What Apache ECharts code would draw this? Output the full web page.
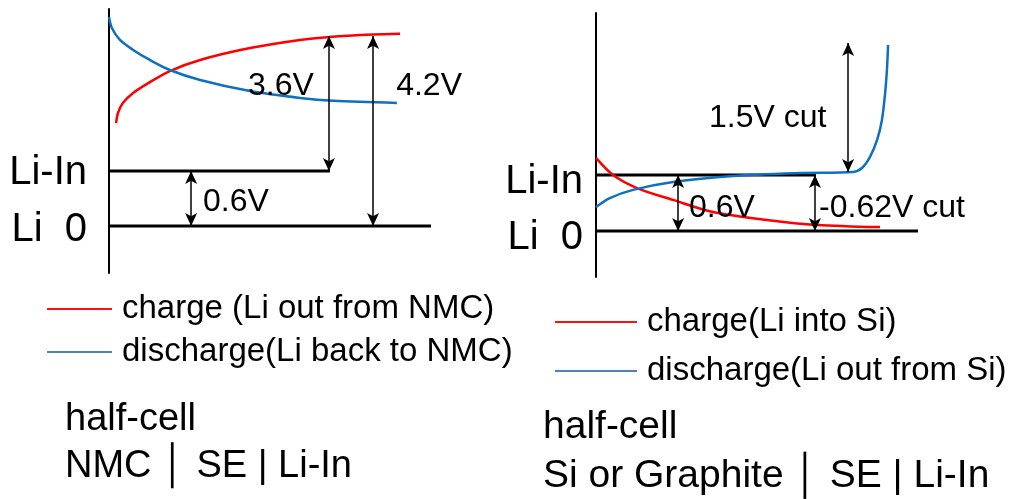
<!DOCTYPE html>
<html>
<head>
<meta charset="utf-8">
<script src="https://cdn.jsdelivr.net/npm/echarts@6.0.0/dist/echarts.min.js"></script>
<style>
  html, body { margin: 0; padding: 0; background: #fff; }
  #main { width: 1016px; height: 499px; }
</style>
</head>
<body>
<div id="main"></div>
<script>
// schematic units: x = state of charge (0-100), y = potential level (0-100)
// NMC half-cell (left)
var nmcCharge = [[2.2, 56.8], [2.8, 60.6], [4.3, 64.4], [7.5, 68.2], [12.7, 72.3], [18.9, 76.5],
  [28.3, 80.7], [43.8, 85.2], [59.3, 88.3], [68.6, 89.4], [82.0, 90.3], [90.4, 90.6]];
var nmcDischarge = [[0, 97], [0.9, 92.8], [3.4, 88.3], [7.5, 84.5], [12.7, 80.7], [18.9, 76.9],
  [28.3, 73.1], [43.8, 68.9], [59.3, 66.3], [69.6, 65.2], [89.4, 64.4]];
var nmcLevels = [[38.6, 68.6], [17.8, 100]];           // [level, line end]
var nmcArrows = [[25.5, 17.8, 38.6], [68.3, 38.6, 89.8], [82, 17.8, 89.8]];
var nmcNotes = [[43.8, 70.8, '3.6V'], [89.8, 70.8, '4.2V'], [29.8, 26.9, '0.6V']];
var nmcLevelNames = [[0, 37.9, 'Li-In'], [0, 16.3, 'Li  0']];

// Si / graphite half-cell (right)
var siCharge = [[0, 45.1], [5.3, 38.6], [12.7, 33.7], [23.9, 29.2], [36.3, 24.6], [53.1, 21.6],
  [68.6, 19.7], [88.2, 18.9]];
var siDischarge = [[0, 26.5], [4.3, 29.9], [11.5, 33.0], [23.9, 36.0], [42.5, 38.3], [63.4, 39.4],
  [79.8, 39.8], [82.6, 41.3], [85.1, 45.5], [87.3, 51.9], [88.8, 59.5], [89.8, 69.7],
  [90.4, 79.5], [90.7, 87.9]];
var siLevels = [[38.6, 68.3], [17.4, 100]];
var siArrows = [[25.5, 17.4, 38.6], [68, 17.4, 38.6], [78.3, 39.8, 88.6]];
var siNotes = [[29.5, 26.1, '0.6V'], [69.9, 26.1, '-0.62V cut'], [35.7, 60.2, '1.5V cut']];
var siLevelNames = [[0, 36, 'Li-In'], [0, 14.8, 'Li  0']];

var names = ['charge (Li out from NMC)', 'discharge(Li back to NMC)',
  'charge(Li into Si)', 'discharge(Li out from Si)'];

var FONT = '"Liberation Sans", Arial, "DejaVu Sans", sans-serif';
var RED = '#ff0000';
var BLUE = '#0e70c0';

function panelSeries(gi, charge, discharge, levels, arrows, notes, levelNames, chargeName, dischargeName) {
  var out = [];
  levels.forEach(function (lv, i) {
    var s = {
      type: 'line',
      xAxisIndex: gi,
      yAxisIndex: gi,
      data: [[0, lv[0]], [lv[1], lv[0]]],
      symbol: 'none',
      silent: true,
      z: 2,
      lineStyle: { color: '#000', width: 3 }
    };
    if (i === 0) {
      s.markLine = {
        silent: true,
        symbol: ['arrow', 'arrow'],
        symbolSize: [9, 13],
        lineStyle: { color: '#000', width: 1.5, type: 'solid' },
        label: { show: false },
        data: arrows.map(function (a) {
          return [{ coord: [a[0], a[1]] }, { coord: [a[0], a[2]] }];
        })
      };
    }
    out.push(s);
  });
  [[chargeName, charge, RED], [dischargeName, discharge, BLUE]].forEach(function (c) {
    out.push({
      name: c[0],
      type: 'line',
      xAxisIndex: gi,
      yAxisIndex: gi,
      data: c[1],
      smooth: 0.3,
      symbol: 'none',
      z: 3,
      color: c[2],
      lineStyle: { color: c[2], width: 2.5 }
    });
  });
  out.push({
    type: 'scatter',
    xAxisIndex: gi,
    yAxisIndex: gi,
    data: notes,
    symbolSize: 0,
    clip: false,
    silent: true,
    z: 4,
    label: {
      show: true, position: 'right', distance: -2,
      formatter: function (p) { return p.data[2]; },
      fontSize: 32, fontFamily: FONT, color: '#000', opacity: 1
    }
  });
  out.push({
    type: 'scatter',
    xAxisIndex: gi,
    yAxisIndex: gi,
    data: levelNames,
    symbolSize: 0,
    clip: false,
    silent: true,
    z: 4,
    label: {
      show: true, position: 'left', distance: gi === 0 ? 22 : 13,
      formatter: function (p) { return p.data[2]; },
      fontSize: 40, fontFamily: FONT, color: '#000', opacity: 1
    }
  });
  return out;
}

function axisX(gi) {
  return {
    type: 'value', gridIndex: gi, min: 0, max: 100,
    axisLine: { show: false }, axisTick: { show: false },
    axisLabel: { show: false }, splitLine: { show: false }
  };
}
function axisY(gi) {
  return {
    type: 'value', gridIndex: gi, min: 0, max: 100,
    axisLine: { show: true, lineStyle: { color: '#000', width: 2 } },
    axisTick: { show: false }, axisLabel: { show: false }, splitLine: { show: false }
  };
}

function legendBox(left, top, width, gap, n0, n1) {
  return {
    orient: 'vertical', left: left, top: top, padding: 0,
    icon: 'rect', itemWidth: width, itemHeight: 2, itemGap: gap,
    textStyle: { fontSize: 33, lineHeight: 36, fontFamily: FONT, color: '#000', padding: [0, 0, 0, 5] },
    data: [
      { name: n0, itemStyle: { color: '#ff1010' } },
      { name: n1, itemStyle: { color: '#4f81bd' } }
    ]
  };
}

var chart = echarts.init(document.getElementById('main'));
chart.setOption({
  animation: false,
  backgroundColor: '#fff',
  grid: [
    { left: 109, top: 9, width: 322, height: 264 },
    { left: 596, top: 13, width: 322, height: 264 }
  ],
  xAxis: [axisX(0), axisX(1)],
  yAxis: [axisY(0), axisY(1)],
  title: [
    {
      text: 'half-cell\nNMC │ SE | Li-In',
      left: 65, top: 396, padding: 0,
      textStyle: { fontSize: 38, lineHeight: 47, fontWeight: 'normal', color: '#000', fontFamily: FONT }
    },
    {
      text: 'half-cell\nSi or Graphite │ SE | Li-In',
      left: 543, top: 403, padding: 0,
      textStyle: { fontSize: 39, lineHeight: 49, fontWeight: 'normal', color: '#000', fontFamily: FONT }
    }
  ],
  legend: [
    legendBox(47, 291, 65, 7, names[0], names[1]),
    legendBox(555, 304, 82, 13, names[2], names[3])
  ],
  series: [].concat(
    panelSeries(0, nmcCharge, nmcDischarge, nmcLevels, nmcArrows, nmcNotes, nmcLevelNames, names[0], names[1]),
    panelSeries(1, siCharge, siDischarge, siLevels, siArrows, siNotes, siLevelNames, names[2], names[3])
  )
});
</script>
</body>
</html>
